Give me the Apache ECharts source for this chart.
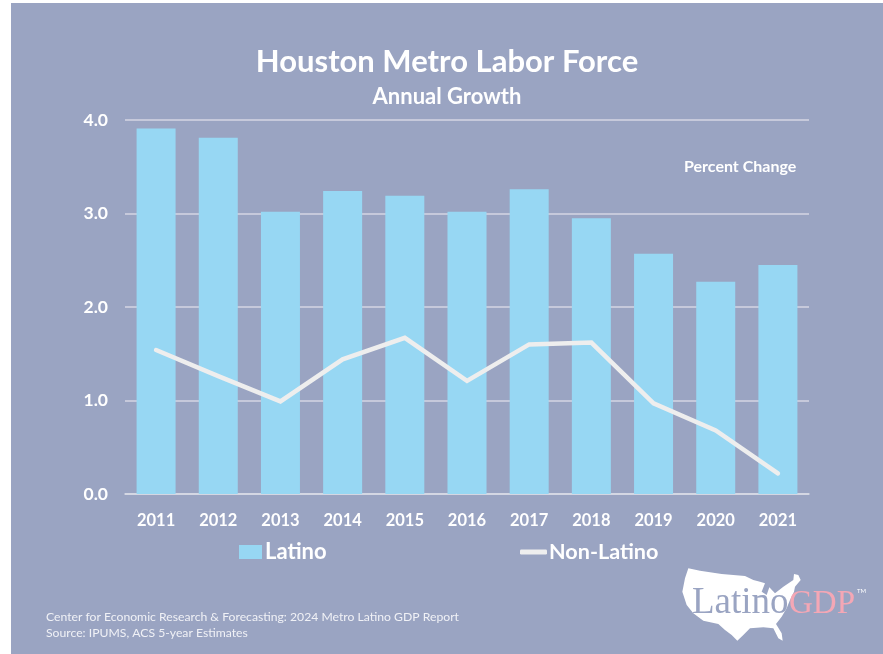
<!DOCTYPE html>
<html>
<head>
<meta charset="utf-8">
<style>html,body{margin:0;padding:0;background:#fff}#c{width:883px;height:654px}</style>
<script src="https://cdn.jsdelivr.net/npm/echarts@6/dist/echarts.min.js"></script>
</head>
<body>
<div id="c"></div>
<script>
const years = ['2011','2012','2013','2014','2015','2016','2017','2018','2019','2020','2021'];
const latino = [3.91,3.81,3.02,3.24,3.19,3.02,3.26,2.95,2.57,2.27,2.45];
const nonLatino = [1.54,1.26,0.99,1.44,1.67,1.21,1.60,1.62,0.97,0.68,0.22];
const yTicks = {min:0,max:4,interval:1};
const titleText = 'Houston Metro Labor Force';
const subtitleText = 'Annual Growth';
const unitText = 'Percent Change';
const sourceLines = ['Center for Economic Research & Forecasting: 2024 Metro Latino GDP Report','Source: IPUMS, ACS 5-year Estimates'];
const mapOutline = [[115,55],[150,62],[215,72],[285,78],[310,90],[330,95],[345,100],[335,125],[350,135],[358,112],[375,130],[400,110],[430,90],[432,72],[445,75],[452,90],[435,110],[432,125],[420,150],[410,175],[395,200],[378,222],[395,250],[398,272],[385,265],[370,235],[340,232],[300,235],[280,255],[262,272],[245,255],[225,240],[205,222],[160,212],[130,190],[110,165],[97,125],[105,85]];

const FONT='Lato, "Open Sans", sans-serif';
const chart = echarts.init(document.getElementById('c'),null,{renderer:'canvas'});
const txt=(x,y,text,size,weight,color,align,family)=>({type:'text',x,y,silent:true,z:20,style:{text,fontSize:size,fontWeight:weight,fontFamily:family||FONT,fill:color,align:align||'left',verticalAlign:'middle'}});
chart.setOption({
  animation:false,
  backgroundColor:'#ffffff',
  grid:{left:125,right:74,top:120,bottom:160},
  xAxis:{type:'category',data:years,
    axisTick:{show:false},
    axisLine:{lineStyle:{color:'#d9dbe6',width:1.5}},
    axisLabel:{color:'#ffffff',fontFamily:FONT,fontWeight:700,fontSize:16.5,margin:18}},
  yAxis:{type:'value',min:yTicks.min,max:yTicks.max,interval:yTicks.interval,
    axisLine:{show:false},axisTick:{show:false},
    splitLine:{lineStyle:{color:'#d4d6e3',width:1.5}},
    axisLabel:{color:'#ffffff',fontFamily:FONT,fontWeight:700,fontSize:17.5,margin:17,formatter:v=>v.toFixed(1)}},
  legend:[
    {data:[{name:'Latino',icon:'rect'}],left:239,top:541,padding:0,itemWidth:23,itemHeight:14,itemGap:0,
     textStyle:{color:'#fff',fontFamily:FONT,fontWeight:700,fontSize:22,padding:[0,0,0,-2]}},
    {data:[{name:'Non-Latino',icon:'roundRect'}],left:520,top:541,padding:0,itemWidth:27,itemHeight:5,itemGap:0,
     textStyle:{color:'#fff',fontFamily:FONT,fontWeight:700,fontSize:21.6,padding:[0,0,0,-3]}}
  ],
  series:[
    {name:'Latino',type:'bar',data:latino,barWidth:39,itemStyle:{color:'#97d7f3'},z:2},
    {name:'Non-Latino',type:'line',data:nonLatino,symbol:'none',z:3,
     lineStyle:{color:'#eeeeee',width:4.5,cap:'round',join:'miter'},itemStyle:{color:'#eeeeee'}}
  ],
  graphic:[
    {type:'rect',z:-10,silent:true,shape:{x:11,y:3,width:872,height:651},style:{fill:'#9aa4c2'}},
    txt(447,62,titleText,31,700,'#fff','center'),
    txt(447,97,subtitleText,22,700,'#fff','center'),
    txt(684,167,unitText,16,700,'#fff'),
    txt(46,617,sourceLines[0],12.2,400,'#f0f1f6'),
    txt(46,633,sourceLines[1],12.2,400,'#f0f1f6'),
    {type:'polygon',silent:true,z:15,shape:{points:mapOutline.map(p=>[650+p[0]/3,550+p[1]/3])},style:{fill:'#ffffff'}},
    txt(692,603,'Latino',37,400,'#9aa4c2','left','"Liberation Serif", serif'),
    txt(789,604,'GDP',33,400,'#f4a7b5','left','"Liberation Serif", serif'),
    txt(857,591,'TM',6,400,'#ffffff','left')
  ]
});
</script>
</body>
</html>
